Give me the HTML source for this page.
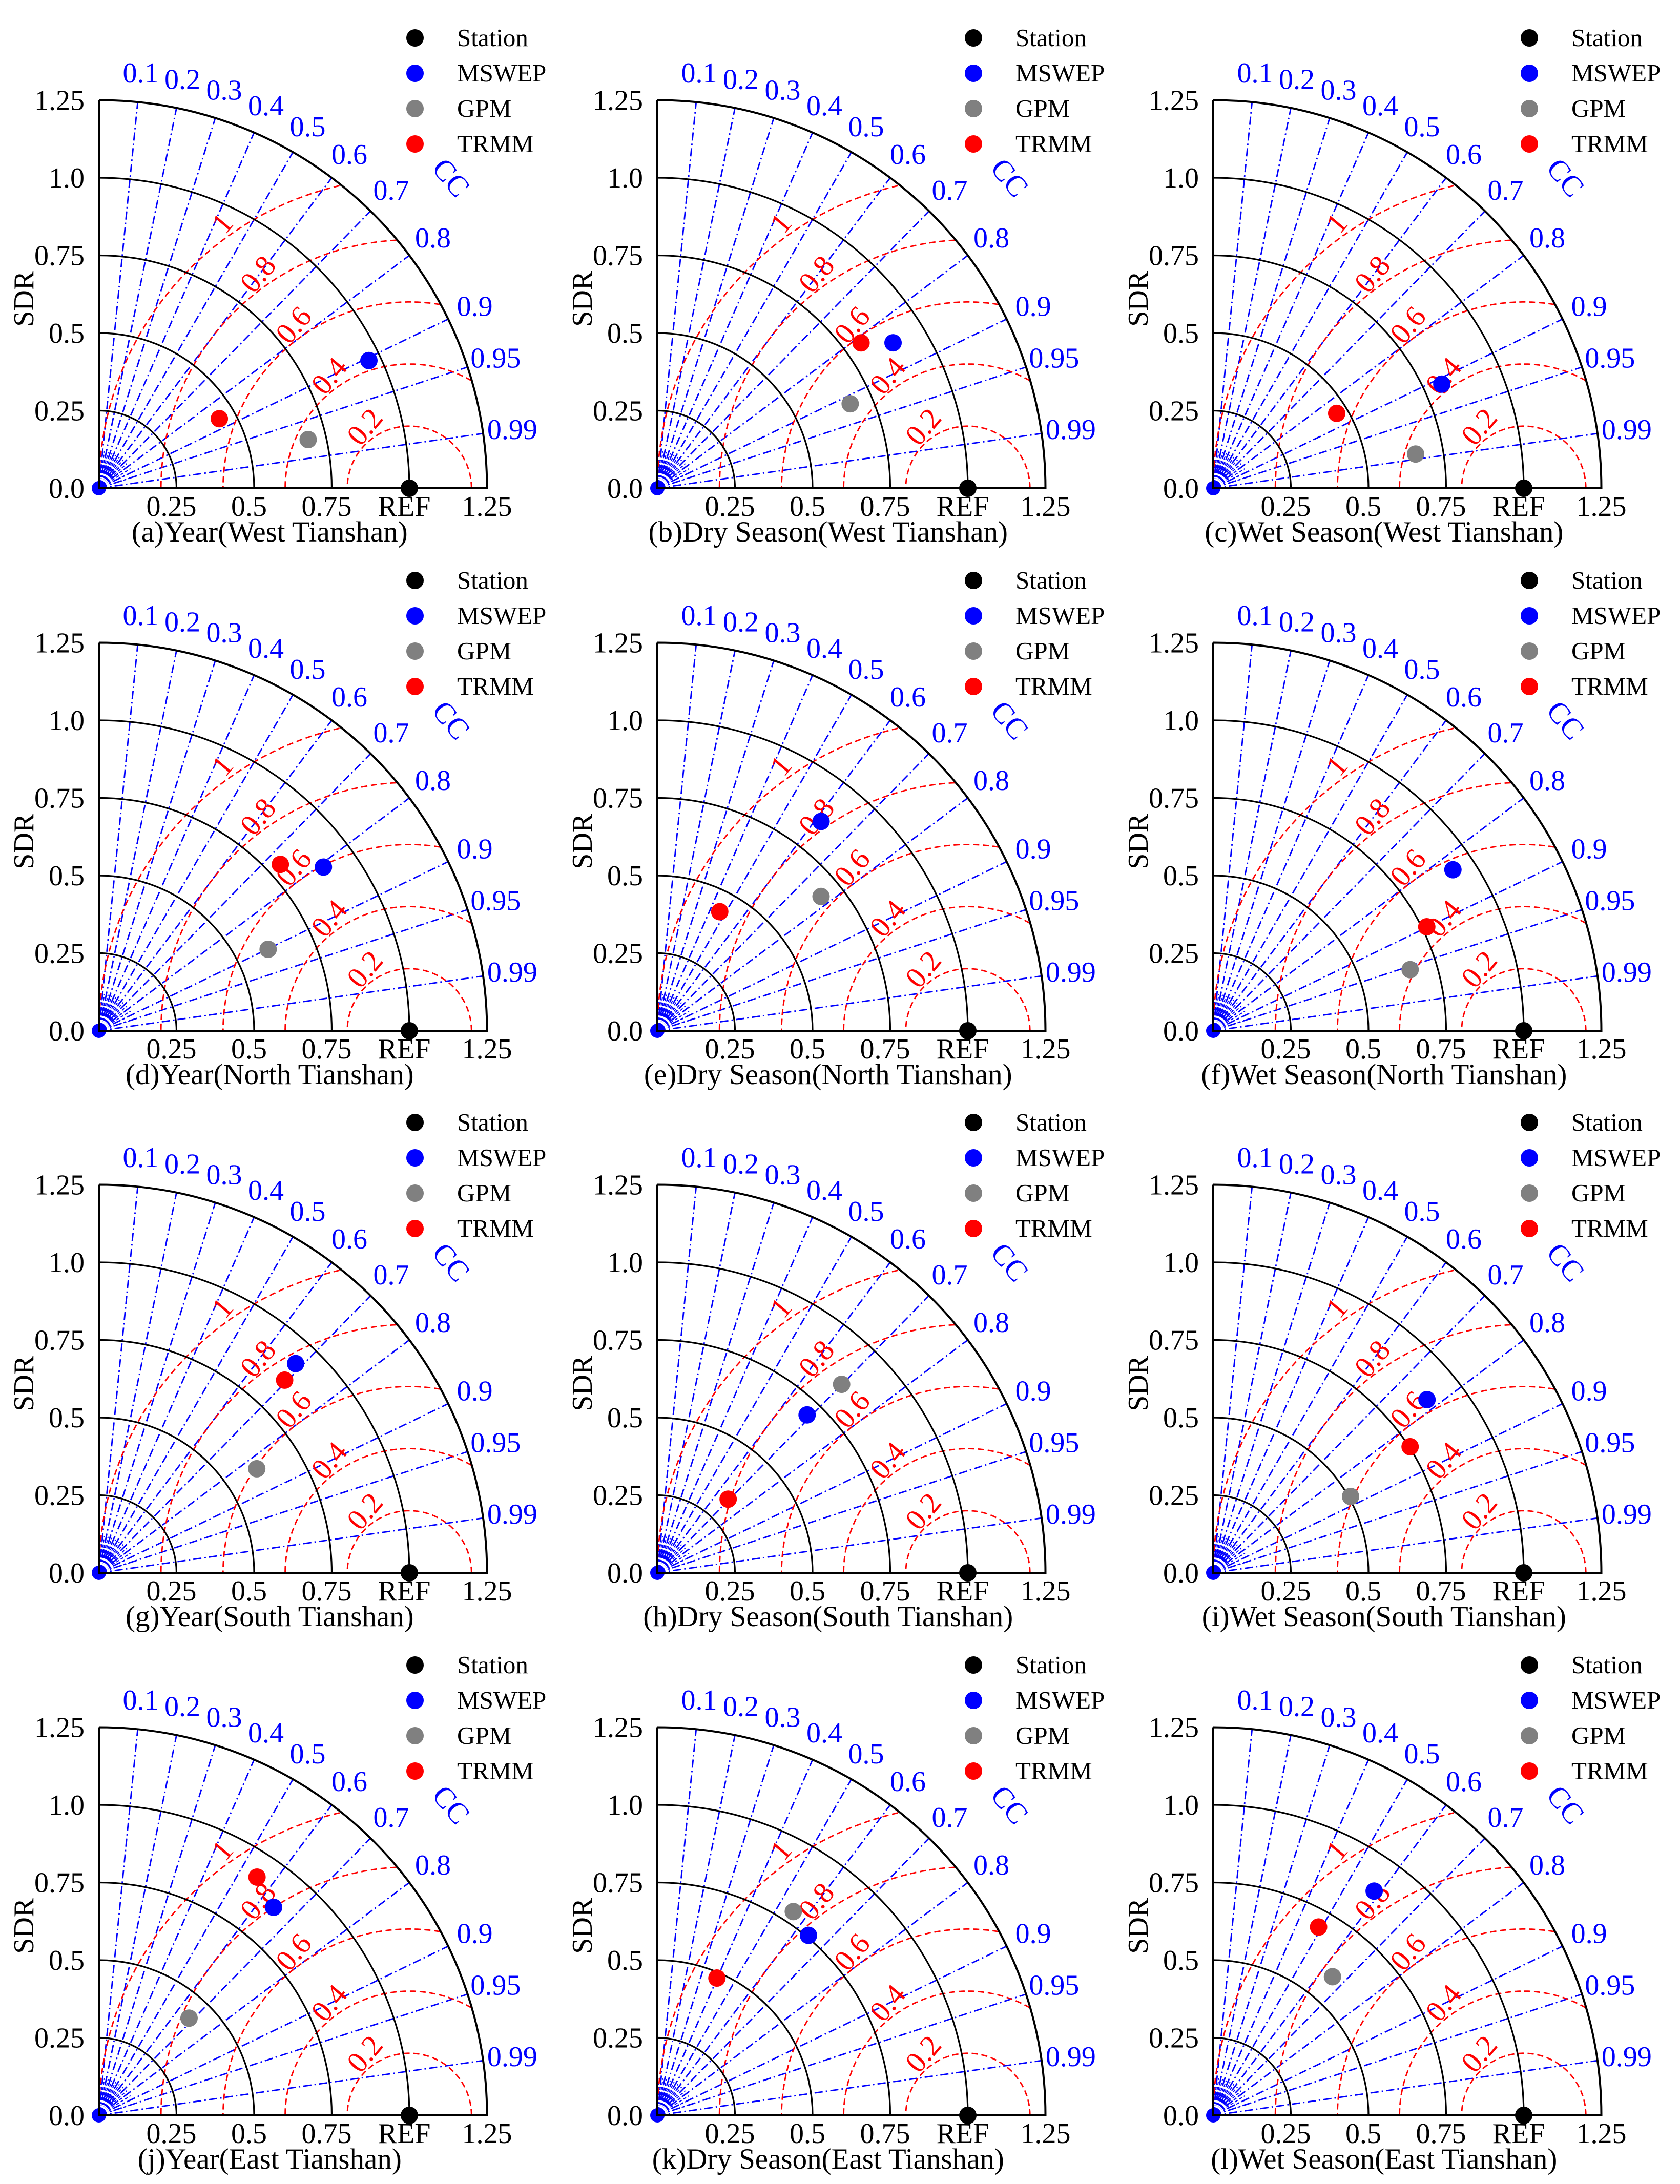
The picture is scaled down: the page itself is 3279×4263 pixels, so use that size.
<!DOCTYPE html>
<html><head><meta charset="utf-8"><style>
html,body{margin:0;padding:0;background:#fff;}
svg{display:block;font-family:"Liberation Serif",serif;}
</style></head><body>
<svg id="fig" width="3279" height="4263" viewBox="0 0 3279 4263" xmlns="http://www.w3.org/2000/svg"></svg>
<script>
// ---- data (SDR, CC) per panel ----
const captions = ["(a)Year(West Tianshan)","(b)Dry Season(West Tianshan)","(c)Wet Season(West Tianshan)",
"(d)Year(North Tianshan)","(e)Dry Season(North Tianshan)","(f)Wet Season(North Tianshan)",
"(g)Year(South Tianshan)","(h)Dry Season(South Tianshan)","(i)Wet Season(South Tianshan)",
"(j)Year(East Tianshan)","(k)Dry Season(East Tianshan)","(l)Wet Season(East Tianshan)"];
const mswepSdr = [0.962,0.892,0.809,0.895,0.856,0.930,0.925,0.701,0.886,0.875,0.757,0.889];
const mswepCc  = [0.904,0.851,0.910,0.808,0.616,0.830,0.685,0.688,0.777,0.643,0.643,0.583];
const gpmSdr   = [0.692,0.678,0.661,0.605,0.682,0.664,0.609,0.849,0.506,0.427,0.789,0.589];
const gpmCc    = [0.974,0.916,0.986,0.901,0.773,0.955,0.835,0.699,0.874,0.680,0.555,0.652];
const trmmSdr  = [0.448,0.806,0.465,0.793,0.433,0.765,0.862,0.329,0.753,0.921,0.482,0.695];
const trmmCc   = [0.866,0.814,0.855,0.737,0.464,0.899,0.694,0.693,0.842,0.553,0.398,0.488];
const ccTicks = [0.1,0.2,0.3,0.4,0.5,0.6,0.7,0.8,0.9,0.95,0.99];
const ccLabels = ["0.1","0.2","0.3","0.4","0.5","0.6","0.7","0.8","0.9","0.95","0.99"];
const sdArcs = [0.25,0.5,0.75,1.0];
const yTickVals = [0,0.25,0.5,0.75,1.0,1.25];
const yTickLabels = ["0.0","0.25","0.5","0.75","1.0","1.25"];
const xTickVals = [0.25,0.5,0.75,1.0,1.25];
const xTickLabels = ["0.25","0.5","0.75","REF","1.25"];
const rmsVals = [0.2,0.4,0.6,0.8,1.0];
const rmsLabels = ["0.2","0.4","0.6","0.8","1"];
const seriesNames = ["Station","MSWEP","GPM","TRMM"];
const seriesColors = ["#000","#0000ff","#808080","#ff0000"];

const svg = document.getElementById('fig');
const NS = "http://www.w3.org/2000/svg";
const U = 606, RMAX = 1.25;
const colX = [193,1283,2368];
const rowY = [953,2012,3070,4129];
function mk(tag, attrs, parent){const e=document.createElementNS(NS,tag);for(const k in attrs)e.setAttribute(k,attrs[k]);(parent||svg).appendChild(e);return e;}

for(let p=0;p<12;p++){
  const ox = colX[p%3], oy = rowY[Math.floor(p/3)];
  const X = (x)=>ox + x*U, Y=(y)=>oy - y*U;
  const g = mk('g',{});
  
  
  ccTicks.forEach((c,i)=>{
    const a=Math.acos(c);
    const l=mk('line',{x1:X(0),y1:Y(0),x2:X(RMAX*Math.cos(a)),y2:Y(RMAX*Math.sin(a)),stroke:'#0000ff','stroke-width':2.8,'stroke-dasharray':'16,6,3,6'},g);
    
    
    const t=mk('text',{x:X(1.345*Math.cos(a)),y:Y(1.345*Math.sin(a))+19,'text-anchor':'middle','font-size':56,fill:'#0000ff'},g);
    t.textContent=ccLabels[i];
    
    
  });
  for(let c=0.05;c<0.99;c+=0.05){const a=Math.acos(c);
    mk('line',{x1:X(0),y1:Y(0),x2:X(0.12*Math.cos(a)),y2:Y(0.12*Math.sin(a)),stroke:'#0000ff','stroke-width':2,'stroke-dasharray':'6,4'},g);}
  mk('circle',{cx:X(0),cy:Y(0),r:14,fill:'#0000ff'},g);
  mk('path',{d:`M${X(0.035)},${Y(0)} A${0.035*U},${0.035*U} 0 0 0 ${X(0)},${Y(0.035)}`,fill:'none',stroke:'#fff','stroke-width':2},g);
  rmsVals.forEach((r,i)=>{
    let d='';let first=true;
    for(let k=0;k<=360;k++){
      const th=Math.PI*k/360;
      const x=1+r*Math.cos(th), y=r*Math.sin(th);
      if(x<0||Math.hypot(x,y)>RMAX){first=true;continue;}
      d+=(first?'M':'L')+X(x).toFixed(1)+','+Y(y).toFixed(1);first=false;
    }
    const pth=mk('path',{d:d,fill:'none',stroke:'#ff0000','stroke-width':2.8,'stroke-dasharray':'12,7'},g);
    
    
    const la=125*Math.PI/180, lr=r+0.03;
    const lx=X(1+lr*Math.cos(la)), ly=Y(lr*Math.sin(la));
    const t=mk('text',{x:lx,y:ly+10,'text-anchor':'middle','font-size':58,fill:'#ff0000',transform:`rotate(-50 ${lx} ${ly})`},g);
    t.textContent=rmsLabels[i];
    
    
  });
  sdArcs.forEach(r=>{
    const a=mk('path',{d:`M${X(r)},${Y(0)} A${r*U},${r*U} 0 0 0 ${X(0)},${Y(r)}`,fill:'none',stroke:'#000','stroke-width':3.2},g);
    
    
  });
  const outer=mk('path',{d:`M${X(0)},${Y(RMAX)} L${X(0)},${Y(0)} L${X(RMAX)},${Y(0)} A${RMAX*U},${RMAX*U} 0 0 0 ${X(0)},${Y(RMAX)}`,fill:'none',stroke:'#000','stroke-width':4},g);
  
  
  yTickVals.forEach((v,i)=>{
    const t=mk('text',{x:X(0)-28,y:Y(v)+19,'text-anchor':'end','font-size':56},g);
    t.textContent=yTickLabels[i];
    
    
  });
  xTickVals.forEach((v,i)=>{
    const t=mk('text',{x:X(v)+(i===4?0:-10),y:Y(0)+54,'text-anchor':'middle','font-size':56},g);
    t.textContent=xTickLabels[i];
    
    
  });
  const sdr=mk('text',{x:0,y:0,'text-anchor':'middle','font-size':56,transform:`translate(${X(0)-128},${Y(0.61)}) rotate(-90)`},g);
  sdr.textContent='SDR';
  
  
  const cc=mk('text',{x:0,y:0,'text-anchor':'middle','font-size':58,fill:'#0000ff',transform:`translate(${X(1.11)},${Y(0.98)}) rotate(50)`},g);
  cc.textContent='CC';
  
  
  const cap=mk('text',{x:X(0.55),y:Y(0)+104,'text-anchor':'middle','font-size':57},g);
  cap.textContent=captions[p];
  
  
  const st=mk('circle',{cx:X(1),cy:Y(0),r:17,fill:'#000'},g);
  
  
  [[mswepSdr,mswepCc,1],[gpmSdr,gpmCc,2],[trmmSdr,trmmCc,3]].forEach(([s,c,k])=>{
    const a=Math.acos(c[p]);
    const pt=mk('circle',{cx:X(s[p]*Math.cos(a)),cy:Y(s[p]*Math.sin(a)),r:17,fill:seriesColors[k]},g);
    
    
  });
  seriesNames.forEach((n,k)=>{
    const ly=oy-879+k*69;
    const d=mk('circle',{cx:ox+617,cy:ly,r:17,fill:seriesColors[k]},g);
    
    
    const t=mk('text',{x:ox+699,y:ly+16,'font-size':49},g);
    t.textContent=n;
    
    
  });
}
</script>
</body></html>
